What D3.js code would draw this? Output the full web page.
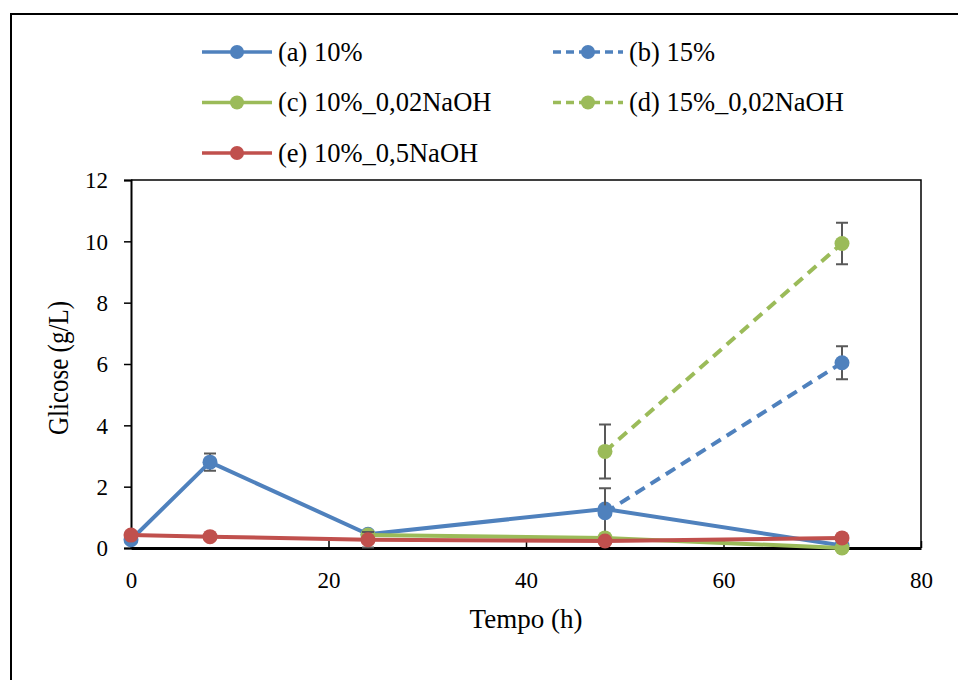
<!DOCTYPE html>
<html>
<head>
<meta charset="utf-8">
<script src="https://cdn.jsdelivr.net/npm/d3@7"></script>
<style>
  body { margin: 0; background: #fff; }
  svg { display: block; }
  text { font-family: "Liberation Serif", "Times New Roman", serif; fill: #000; }
</style>
</head>
<body>
<svg id="chart"></svg>
<script>
// dados
const tempoA = [0, 8, 24, 48, 72];
const glicoseA = [0.27, 2.8, 0.45, 1.27, 0.08];
const erroA = [0, 0.28, 0, 0, 0];

const tempoB = [48, 72];
const glicoseB = [1.15, 6.04];
const erroB = [0.8, 0.54];

const tempoC = [24, 48, 72];
const glicoseC = [0.42, 0.33, 0];
const erroC = [0, 0, 0];

const tempoD = [48, 72];
const glicoseD = [3.15, 9.93];
const erroD = [0.88, 0.68];

const tempoE = [0, 8, 24, 48, 72];
const glicoseE = [0.42, 0.37, 0.27, 0.23, 0.33];
const erroE = [0, 0, 0.25, 0, 0];

const nomes = ["(a) 10%", "(b) 15%", "(c) 10%_0,02NaOH", "(d) 15%_0,02NaOH", "(e) 10%_0,5NaOH"];
const xTicks = [0, 20, 40, 60, 80];
const yTicks = [0, 2, 4, 6, 8, 10, 12];

function serie(tempo, glicose, erro) {
    return tempo.map((t, i) => ({ x: t, y: glicose[i], e: erro[i] }));
}

const series = [
    { nome: nomes[0], dados: serie(tempoA, glicoseA, erroA), cor: "#4F81BD", tracejado: false },
    { nome: nomes[1], dados: serie(tempoB, glicoseB, erroB), cor: "#4F81BD", tracejado: true },
    { nome: nomes[2], dados: serie(tempoC, glicoseC, erroC), cor: "#9BBB59", tracejado: false },
    { nome: nomes[3], dados: serie(tempoD, glicoseD, erroD), cor: "#9BBB59", tracejado: true },
    { nome: nomes[4], dados: serie(tempoE, glicoseE, erroE), cor: "#C0504D", tracejado: false }
];

const width = 958, height = 680;
const svg = d3.select("#chart")
    .attr("width", width)
    .attr("height", height);

// moldura externa
svg.append("rect")
    .attr("x", 11).attr("y", 14)
    .attr("width", 1000).attr("height", 700)
    .attr("fill", "none").attr("stroke", "#000").attr("stroke-width", 2);

const plot = { left: 131, right: 921, top: 180, bottom: 548 };

const x = d3.scaleLinear().domain([0, 80]).range([plot.left, plot.right]);
const y = d3.scaleLinear().domain([0, 12]).range([plot.bottom, plot.top]);

// borda da área do gráfico (topo e direita)
svg.append("path")
    .attr("d", `M${plot.left},${plot.top}H${plot.right}V${plot.bottom}`)
    .attr("fill", "none").attr("stroke", "#000").attr("stroke-width", 1.5);

// eixo y
const gy = svg.append("g")
    .attr("transform", `translate(${plot.left},0)`)
    .call(d3.axisLeft(y).tickValues(yTicks).tickSize(7).tickPadding(16).tickFormat(d3.format("d")));
gy.select(".domain").attr("stroke-width", 2);
gy.selectAll(".tick line").attr("stroke-width", 1.5);
gy.selectAll(".tick text").attr("font-size", 23).attr("font-family", "Liberation Serif").attr("dy", "0.34em");

// eixo x
const gx = svg.append("g")
    .attr("transform", `translate(0,${plot.bottom})`)
    .call(d3.axisBottom(x).tickValues(xTicks).tickSize(-7).tickSizeOuter(0).tickPadding(33).tickFormat(d3.format("d")));
gx.select(".domain").attr("stroke-width", 3);
gx.selectAll(".tick line").attr("stroke-width", 1.5);
gx.selectAll(".tick text").attr("font-size", 23).attr("font-family", "Liberation Serif").attr("dy", "0.3em");

// títulos
svg.append("text")
    .attr("x", x(40)).attr("y", 628)
    .attr("text-anchor", "middle")
    .attr("font-size", 27)
    .text("Tempo (h)");

svg.append("text")
    .attr("transform", `translate(68,${y(6) + 4}) rotate(-90) scale(1,1.2)`)
    .attr("text-anchor", "middle")
    .attr("font-size", 25)
    .text("Glicose (g/L)");

const linha = d3.line().x(d => x(d.x)).y(d => y(d.y));

series.forEach(s => {
    const g = svg.append("g");
    g.append("path")
        .datum(s.dados)
        .attr("d", linha)
        .attr("fill", "none")
        .attr("stroke", s.cor)
        .attr("stroke-width", 4)
        .attr("stroke-linejoin", "round")
        .attr("stroke-dasharray", s.tracejado ? "11,7" : null);

    // barras de erro
    const comErro = s.dados.filter(d => d.e > 0);
    g.selectAll(".erro")
        .data(comErro)
        .enter().append("path")
        .attr("d", d => {
            const cx = x(d.x), y1 = y(d.y + d.e), y0 = y(Math.max(0, d.y - d.e));
            return `M${cx},${y0}V${y1}M${cx - 6},${y1}H${cx + 6}M${cx - 6},${y0}H${cx + 6}`;
        })
        .attr("fill", "none")
        .attr("stroke", "#595959")
        .attr("stroke-width", 2);

    g.selectAll("circle")
        .data(s.dados)
        .enter().append("circle")
        .attr("cx", d => x(d.x))
        .attr("cy", d => y(d.y))
        .attr("r", 7.5)
        .attr("fill", s.cor);
});

// legenda
const legPos = [[202, 52], [553, 52], [202, 102.5], [553, 102.5], [202, 153]];
series.forEach((s, i) => {
    const [lx, ly] = legPos[i];
    const g = svg.append("g").attr("transform", `translate(${lx},${ly})`);
    g.append("line")
        .attr("x1", 0).attr("x2", 70).attr("y1", 0).attr("y2", 0)
        .attr("stroke", s.cor).attr("stroke-width", 3.5)
        .attr("stroke-dasharray", s.tracejado ? "8,5" : null);
    g.append("circle").attr("cx", 35).attr("cy", 0).attr("r", 7).attr("fill", s.cor);
    g.append("text")
        .attr("x", 76).attr("y", 8.5)
        .attr("font-size", 26.5)
        .text(s.nome);
});
</script>
</body>
</html>
